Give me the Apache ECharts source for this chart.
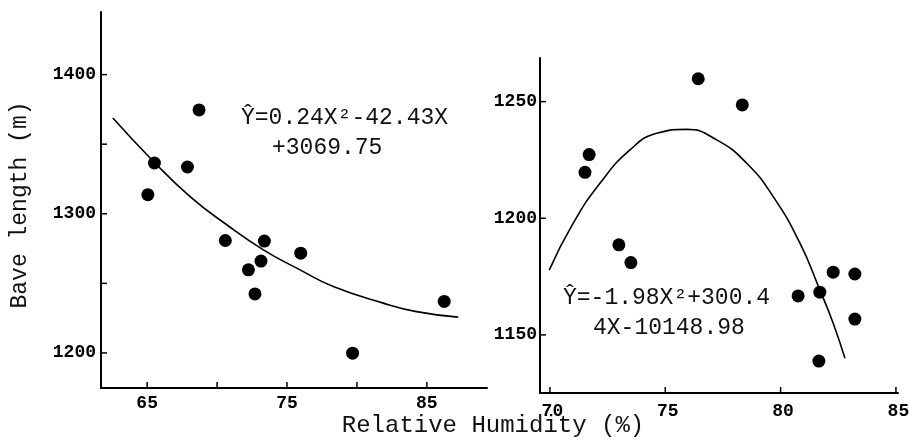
<!DOCTYPE html>
<html>
<head>
<meta charset="utf-8">
<script src="https://cdn.jsdelivr.net/npm/echarts@6/dist/echarts.min.js"></script>
<style>
  html, body { margin: 0; padding: 0; background: #fff; }
  #chart { width: 909px; height: 444px; }
</style>
</head>
<body>
<div id="chart"></div>
<script>
const leftX = [65.05, 65.52, 67.88, 68.71, 70.59, 72.24, 72.71, 73.14, 73.38, 75.98, 79.69, 86.24];
const leftY = [1313.7, 1336.5, 1333.6, 1374.6, 1280.8, 1259.7, 1242.4, 1266, 1280.4, 1271.7, 1199.8, 1237];
const leftCurveX = [62.55, 65.45, 68.07, 70.69, 73.31, 75.93, 78.31, 81.88, 84.26, 87.24];
const leftCurveY = [1368.8, 1337.6, 1312.4, 1292.1, 1274.1, 1259.7, 1247.7, 1235.8, 1229.7, 1225.7];

// right panel
const rightX = [71.52, 71.70, 72.99, 73.51, 76.43, 78.34, 80.76, 81.70, 81.66, 82.28, 83.22, 83.22];
const rightY = [1219.7, 1227.3, 1188.6, 1181, 1259.8, 1248.6, 1166.7, 1168.3, 1138.8, 1176.9, 1176.1, 1156.8];
const rightCurveX = [69.97, 71.01, 72.17, 73.47, 74.63, 75.93, 77.23, 78.53, 79.68, 80.84, 81.70, 82.28, 82.79];
const rightCurveY = [1177.8, 1197.9, 1215.0, 1229.3, 1236.4, 1238.1, 1233.6, 1223.6, 1209.3, 1189.3, 1169.3, 1155.0, 1140.0];

// axis ranges
const leftXRange = [61.7, 89.3];
const leftYRange = [1174.8, 1445];
const rightXRange = [69.57, 85.09];
const rightYRange = [1125.1, 1268.7];

// ticks and labels
const leftXTicks = [65, 70, 75, 80, 85];
const leftXLabels = [65, 75, 85];
const leftYTicks = [1200, 1250, 1300, 1350, 1400];
const leftYLabels = [1200, 1300, 1400];
const rightXTicks = [70, 75, 80, 85];
const rightYTicks = [1150, 1200, 1250];

const eqLeft = ['Ŷ=0.24X²-42.43X', '+3069.75'];
const eqRight = ['Ŷ=-1.98X²+300.4', '4X-10148.98'];
const yName = 'Bave length (m)';
const xName = 'Relative Humidity (%)';

const mono = 'Liberation Mono, DejaVu Sans Mono, monospace';

const zip = (xs, ys) => xs.map((x, i) => [x, ys[i]]);

function axis(gridIndex, range, labels, margin, padding) {
  return {
    type: 'value', gridIndex, min: range[0], max: range[1],
    splitLine: { show: false },
    axisLine: { show: true, lineStyle: { color: '#000', width: 2 } },
    axisTick: { show: false },
    axisLabel: { customValues: labels, formatter: v => String(v), color: '#000',
      fontFamily: mono, fontWeight: 'bold', fontSize: 18, margin, padding: padding || 0 }
  };
}

// short inward tick marks drawn as thin rect symbols sitting on the axis line
function xTicks(index, values, yBase) {
  return {
    type: 'scatter', xAxisIndex: index, yAxisIndex: index, silent: true, clip: false, z: 5,
    data: values.map(v => [v, yBase]),
    symbol: 'rect', symbolSize: [1.5, 6], symbolOffset: [0, -3],
    itemStyle: { color: '#000', opacity: 1 }
  };
}
function yTicks(index, values, xBase) {
  return {
    type: 'scatter', xAxisIndex: index, yAxisIndex: index, silent: true, clip: false, z: 5,
    data: values.map(v => [xBase, v]),
    symbol: 'rect', symbolSize: [6, 1.5], symbolOffset: [3, 0],
    itemStyle: { color: '#000', opacity: 1 }
  };
}

const chart = echarts.init(document.getElementById('chart'));
const eqText = (text, x, y) => ({
  type: 'text', x, y,
  style: { text, font: '23px ' + mono, fill: '#111', textVerticalAlign: 'middle' }
});

chart.setOption({
  animation: false,
  backgroundColor: '#fff',
  grid: [
    { left: 101, right: 422, top: 12, bottom: 56, outerBoundsMode: 'none' },
    { left: 540, right: 11, top: 58, bottom: 51, outerBoundsMode: 'none' }
  ],
  xAxis: [
    axis(0, leftXRange, leftXLabels, 6),
    axis(1, rightXRange, rightXTicks, 9, [0, 0, 0, 5])
  ],
  yAxis: [
    axis(0, leftYRange, leftYLabels, 5),
    axis(1, rightYRange, rightYTicks, 3)
  ],
  series: [
    { type: 'scatter', xAxisIndex: 0, yAxisIndex: 0, data: zip(leftX, leftY),
      symbolSize: 13, itemStyle: { color: '#000', opacity: 1 } },
    { type: 'line', xAxisIndex: 0, yAxisIndex: 0, data: zip(leftCurveX, leftCurveY),
      smooth: true, showSymbol: false, lineStyle: { color: '#000', width: 1.6 } },
    { type: 'scatter', xAxisIndex: 1, yAxisIndex: 1, data: zip(rightX, rightY),
      symbolSize: 13, itemStyle: { color: '#000', opacity: 1 } },
    { type: 'line', xAxisIndex: 1, yAxisIndex: 1, data: zip(rightCurveX, rightCurveY),
      smooth: true, showSymbol: false, lineStyle: { color: '#000', width: 1.6 } },
    xTicks(0, leftXTicks, leftYRange[0]),
    yTicks(0, leftYTicks, leftXRange[0]),
    xTicks(1, rightXTicks, rightYRange[0]),
    yTicks(1, rightYTicks, rightXRange[0])
  ],
  graphic: [
    eqText(eqLeft[0], 241, 118),
    eqText(eqLeft[1], 272, 148),
    eqText(eqRight[0], 563, 298),
    eqText(eqRight[1], 593, 328),
    { type: 'text', x: 20, y: 205, rotation: Math.PI / 2,
      style: { text: yName, font: '23px ' + mono, fill: '#111', textAlign: 'center', textVerticalAlign: 'middle' } },
    { type: 'text', x: 493, y: 426,
      style: { text: xName, font: '24px ' + mono, fill: '#111', textAlign: 'center', textVerticalAlign: 'middle' } }
  ]
});
</script>
</body>
</html>
